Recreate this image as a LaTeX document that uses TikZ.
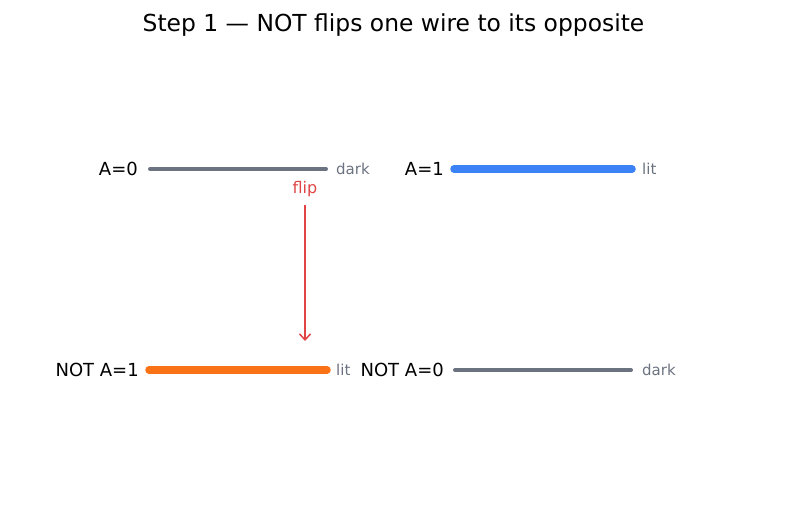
\documentclass[tikz,border=0pt]{standalone}
\usepackage{fontspec}
\setmainfont{DejaVu Sans}
\usepackage{xcolor}
\usetikzlibrary{arrows.meta, positioning, calc}

\definecolor{wiredark}{HTML}{6B7280}
\definecolor{wireblue}{HTML}{3B82F6}
\definecolor{wireorange}{HTML}{F97316}
\definecolor{flipred}{HTML}{E04444}

\tikzset{
  wirename/.style={anchor=east, inner sep=0pt, font=\fontsize{18}{20}\selectfont},
  wirestate/.style={anchor=west, inner sep=0pt, text=wiredark, font=\fontsize{15}{17}\selectfont},
  offwire/.style={draw=wiredark, line width=4pt, line cap=round},
  onwire/.style={line width=7.5pt, line cap=round}
}

\begin{document}
\begin{tikzpicture}[x=1pt, y=-1pt]
        \useasboundingbox (0,0) rectangle (787,510);
        \node (title) at (393.5,25) {\fontsize{23.4}{26}\selectfont Step 1 — NOT flips one wire to its opposite};

        % top row: inputs
        \coordinate (a0s) at (150,169); \coordinate (a0e) at (326,169);
        \coordinate (a1s) at (454,169); \coordinate (a1e) at (632,169);
        \node (a0) [wirename] at (138,169) {A=0}; \node (a0st) [wirestate, right=10pt of a0e] {dark};
        \node (a1) [wirename] at (444,169) {A=1}; \node (a1st) [wirestate, right=10pt of a1e] {lit};
        \draw [offwire] (a0s) -- (a0e);
        \draw [onwire, wireblue] (a1s) -- (a1e);

        % bottom row: outputs
        \coordinate (n1s) at (149,370); \coordinate (n1e) at (327,370);
        \coordinate (n0s) at (455,370); \coordinate (n0e) at (631,370);
        \node (n1) [wirename] at (139,370) {NOT A=1}; \node (n1st) [wirestate, right=9pt of n1e] {lit};
        \node (n0) [wirename] at (444,370) {NOT A=0}; \node (n0st) [wirestate, right=11pt of n0e] {dark};
        \draw [onwire, wireorange] (n1s) -- (n1e);
        \draw [offwire] (n0s) -- (n0e);

        % flip arrow
        \node (flip) [text=flipred, font=\fontsize{16}{18}\selectfont] at (305,189) {flip};
        \coordinate (fliptop) at (305,205); \coordinate (flipbot) at (305,341);
        \draw [flipred, line width=1.5pt, -{Straight Barb[length=6pt, width=11pt]}] (fliptop) -- (flipbot);
    \end{tikzpicture}
\end{document}
